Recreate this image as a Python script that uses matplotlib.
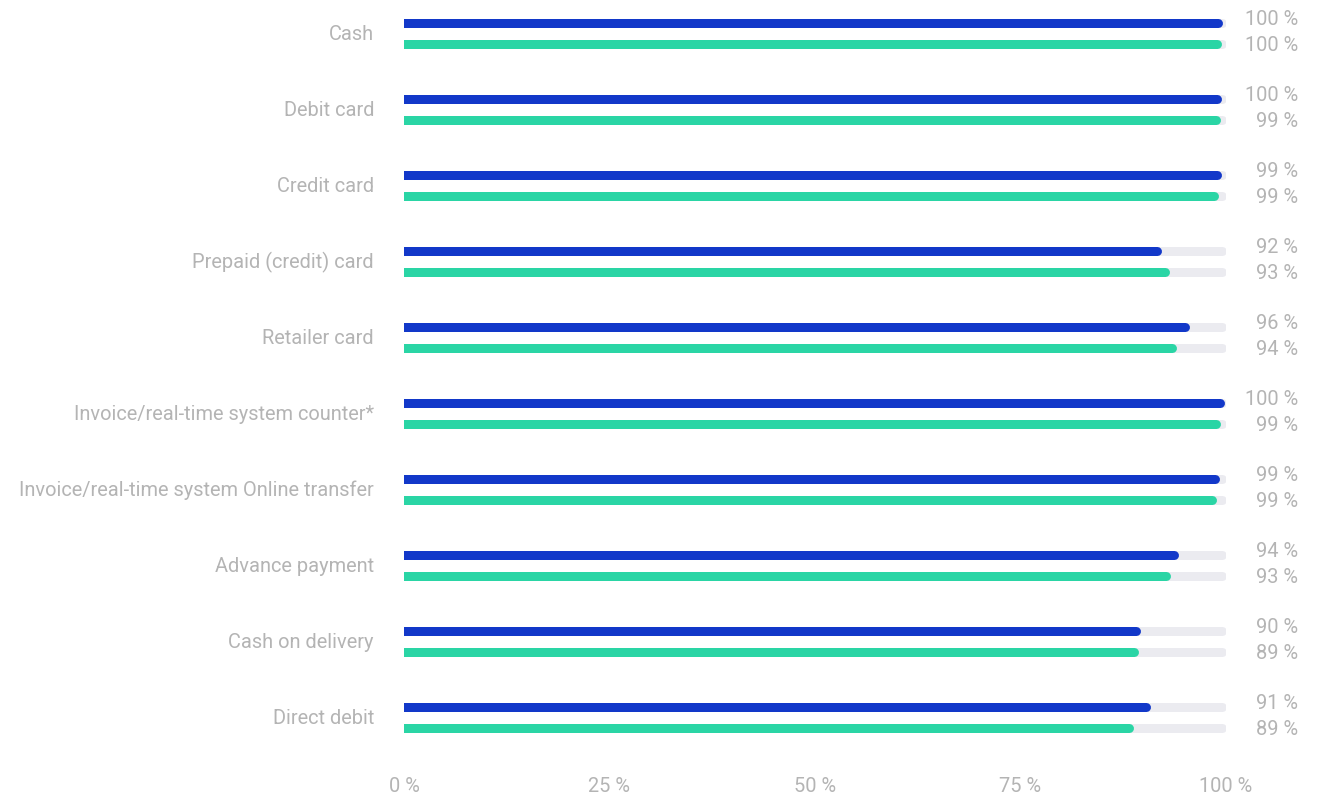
import matplotlib
matplotlib.use("Agg")
import matplotlib.pyplot as plt

categories = [
    "Cash",
    "Debit card",
    "Credit card",
    "Prepaid (credit) card",
    "Retailer card",
    "Invoice/real-time system counter*",
    "Invoice/real-time system Online transfer",
    "Advance payment",
    "Cash on delivery",
    "Direct debit",
]
series_blue = [99.6, 99.5, 99.4, 92.2, 95.6, 99.8, 99.2, 94.2, 89.6, 90.8]
series_green = [99.5, 99.3, 99.1, 93.1, 94.0, 99.3, 98.9, 93.3, 89.4, 88.7]
x_ticks = [0, 25, 50, 75, 100]

BLUE = "#1238c9"
GREEN = "#2ad5a5"
TRACK = "#ebebf0"
TEXT = "#b4b4b4"
FONT = "Roboto"
FS = 14.4

W, H, DPI = 1321, 795, 100
fig = plt.figure(figsize=(W / DPI, H / DPI), dpi=DPI)
fig.patch.set_facecolor("white")

ax_left, ax_right = 404, 1226
ax_top, ax_bottom = 0, 760
ax = fig.add_axes([ax_left / W, 1 - ax_bottom / H,
                   (ax_right - ax_left) / W, (ax_bottom - ax_top) / H])
row_px = 76.0
first_row_px = 34.0
ax.set_xlim(0, 100)
ax.set_ylim((ax_bottom - first_row_px) / row_px, (ax_top - first_row_px) / row_px)
ax.axis("off")

bar_px = 9.0
lw = bar_px * 72 / DPI
r = (bar_px / 2) / (ax_right - ax_left) * 100  # cap radius in data units
offset_blue, offset_green = -0.147, 0.138
text_kw = dict(color=TEXT, fontsize=FS, family=FONT, annotation_clip=False)


def rounded_bar(y, value, color, z):
    ax.plot([-5, value - r], [y, y], color=color, lw=lw,
            solid_capstyle="round", zorder=z, clip_on=True)


for i, (b, g) in enumerate(zip(series_blue, series_green)):
    yb, yg = i + offset_blue, i + offset_green
    rounded_bar(yb, 100, TRACK, 1)
    rounded_bar(yg, 100, TRACK, 1)
    rounded_bar(yb, b, BLUE, 2)
    rounded_bar(yg, g, GREEN, 2)
    # category label
    ax.annotate(categories[i], xy=(0, i), xycoords="data",
                xytext=(-30, 0), textcoords="offset pixels",
                ha="right", va="center", **text_kw)
    # value labels
    ax.annotate(f"{b:.0f} %", xy=(100, yb), xycoords="data",
                xytext=(72, 3), textcoords="offset pixels",
                ha="right", va="center", **text_kw)
    ax.annotate(f"{g:.0f} %", xy=(100, yg), xycoords="data",
                xytext=(72, -1), textcoords="offset pixels",
                ha="right", va="center", **text_kw)

for t in x_ticks:
    ax.annotate(f"{t} %", xy=(t, 0), xycoords=("data", "figure pixels"),
                xytext=(0, 795 - 786), textcoords="offset pixels",
                ha="center", va="center", **text_kw)

fig.savefig("out.png", dpi=DPI, facecolor="white")
